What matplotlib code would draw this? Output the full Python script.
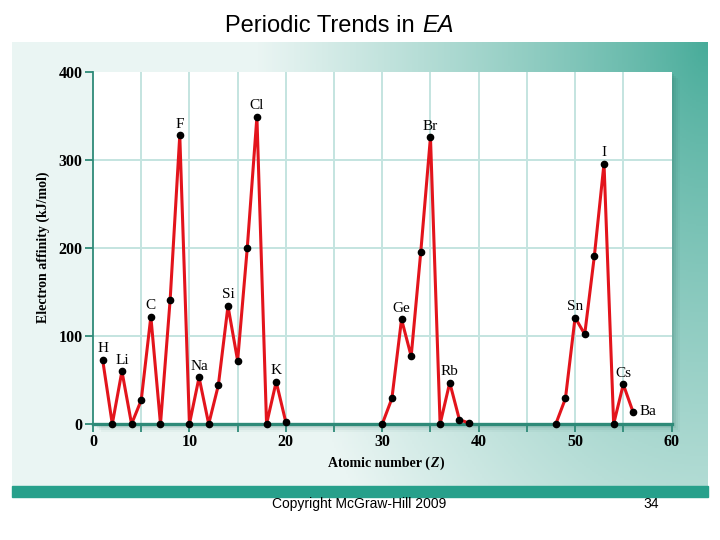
import numpy as np
import matplotlib
matplotlib.use("Agg")
import matplotlib.pyplot as plt
from matplotlib.patches import Rectangle
from matplotlib.offsetbox import TextArea, HPacker, AnnotationBbox

# ---------------- data ----------------
z_period_2_4 = list(range(1, 21))
ea_period_2_4 = [73, 0, 60, 0, 27, 122, 0, 141, 328, 0,
                 53, 0, 44, 134, 72, 200, 349, 0, 48, 2]
z_period_5 = list(range(30, 40))
ea_period_5 = [0, 29, 119, 77, 196, 326, 0, 47, 5, 1]
z_period_6 = list(range(48, 57))
ea_period_6 = [0, 29, 121, 102, 191, 296, 0, 45, 14]

label_names = ["H", "Li", "C", "F", "Na", "Si", "Cl", "K",
               "Ge", "Br", "Rb", "Sn", "I", "Cs", "Ba"]
label_z = [1, 3, 6, 9, 11, 14, 17, 19, 32, 35, 37, 50, 53, 55, 56]

x_major = [0, 10, 20, 30, 40, 50, 60]
y_major = [0, 100, 200, 300, 400]

# ---------------- figure ----------------
W, H = 720, 540
fig = plt.figure(figsize=(7.2, 5.4), dpi=100)
fig.patch.set_facecolor("white")

def fx(px):
    return px / W

def fy(py):
    return 1 - py / H

# gradient panel
pl, pt, pr, pb = 12, 42, 708, 486
ax_bg = fig.add_axes([fx(pl), fy(pb), fx(pr - pl), (pb - pt) / H])
nx, ny = 348, 222
xs = np.linspace(0, pr - pl, nx)
ys = np.linspace(0, pb - pt, ny)
XX, YY = np.meshgrid(xs, ys)
d = np.sqrt(((pr - pl) - XX) ** 2 + (0.62 * YY) ** 2)
t = np.clip(d / 450.0, 0, 1) ** 0.85
dark = np.array([0x46, 0xab, 0x99]) / 255
light = np.array([0xea, 0xf5, 0xf3]) / 255
img = dark[None, None, :] * (1 - t[..., None]) + light[None, None, :] * t[..., None]
ax_bg.imshow(img, aspect="auto", extent=[0, 1, 0, 1], origin="upper")
ax_bg.set_axis_off()

# teal bar
fig.patches.append(Rectangle((fx(12), fy(497)), fx(696), 11 / H,
                             transform=fig.transFigure, color="#27a08b",
                             zorder=1))

# main axes
axl, axr, axt, axb = 93, 671.5, 72, 424
# shadow
for i, a in enumerate([0.10, 0.08, 0.06, 0.04]):
    off = 2 * (i + 1)
    fig.patches.append(Rectangle((fx(axl + off), fy(axb + off)),
                                 fx(axr - axl), (axb - axt) / H,
                                 transform=fig.transFigure,
                                 color="#1d5f55", alpha=a, zorder=1.5,
                                 lw=0))
ax = fig.add_axes([fx(axl), fy(axb), fx(axr - axl), (axb - axt) / H])
ax.set_zorder(3)
ax.set_facecolor("white")
ax.set_xlim(0, 60)
ax.set_ylim(0, 400)

grid_c = "#c4e4e0"
ax.vlines(np.arange(5, 60, 5), 0, 400, colors=grid_c, lw=1.4, zorder=1)
ax.hlines([100, 200, 300], 0, 60, colors=grid_c, lw=1.4, zorder=1)

teal = "#2e8a78"
for s in ["top", "right"]:
    ax.spines[s].set_visible(False)
ax.spines["left"].set_color(teal)
ax.spines["left"].set_linewidth(1.3)
ax.spines["bottom"].set_color(teal)
ax.spines["bottom"].set_linewidth(2.4)
ax.spines["bottom"].set_zorder(2)

ax.set_xticks(x_major)
ax.set_xticks(np.arange(5, 60, 10), minor=True)
ax.set_yticks(y_major)
ax.tick_params(axis="both", which="both", color=teal, width=1.3,
               length=5.5, direction="out")
ax.tick_params(axis="x", which="both", pad=2)
ax.tick_params(axis="y", pad=2)
tick_font = dict(family="Liberation Serif", size=11.5, weight="bold")
ax.set_xticklabels([str(v) for v in x_major], **tick_font)
ax.set_yticklabels([str(v) for v in y_major], **tick_font)

red = "#e3141c"
for zz, ee in [(z_period_2_4, ea_period_2_4), (z_period_5, ea_period_5),
               (z_period_6, ea_period_6)]:
    ax.plot(zz, ee, color=red, lw=2.2, zorder=4, clip_on=False,
            solid_joinstyle="miter")
    ax.plot(zz, ee, "o", color="black", ms=4.5, zorder=5, clip_on=False)

# element labels
all_z = z_period_2_4 + z_period_5 + z_period_6
all_ea = ea_period_2_4 + ea_period_5 + ea_period_6
lookup = dict(zip(all_z, all_ea))
for name, z in zip(label_names, label_z):
    if name == "Ba":
        ax.annotate(name, (z, lookup[z]), xytext=(4.5, 0),
                    textcoords="offset points", ha="left", va="center",
                    family="Liberation Serif", size=11, zorder=6)
    else:
        ax.annotate(name, (z, lookup[z]), xytext=(0, 8),
                    textcoords="offset points", ha="center", va="center",
                    family="Liberation Serif", size=11, zorder=6)

# axis labels
fig.text(fx(43), fy(247), "Electron affinity (kJ/mol)", rotation=90,
         ha="center", va="center", family="Liberation Serif",
         weight="bold", size=10)

xl = HPacker(children=[
    TextArea("Atomic number (", textprops=dict(family="Liberation Serif",
                                                weight="bold", size=10)),
    TextArea("Z", textprops=dict(family="Liberation Serif", weight="bold",
                                 style="italic", size=10)),
    TextArea(")", textprops=dict(family="Liberation Serif", weight="bold",
                                 size=10)),
], sep=0.5, align="baseline", pad=0)
fig.add_artist(AnnotationBbox(xl, (fx(386), fy(463)), xycoords="figure fraction",
                              frameon=False, box_alignment=(0.5, 0.5)))

# title
tl = HPacker(children=[
    TextArea("Periodic Trends in", textprops=dict(family="Liberation Sans",
                                                  size=17)),
    TextArea("EA", textprops=dict(family="Liberation Sans", style="italic",
                                  size=17)),
], sep=5.5, align="baseline", pad=0)
fig.add_artist(AnnotationBbox(tl, (fx(339), fy(26)), xycoords="figure fraction",
                              frameon=False, box_alignment=(0.5, 0.5)))

# footer
fig.text(fx(359), fy(504), "Copyright McGraw-Hill 2009", ha="center",
         va="center", family="Liberation Sans", size=10)
fig.text(fx(651), fy(504), "34", ha="center", va="center",
         family="Liberation Sans", size=10)

fig.savefig("out.png", dpi=100, facecolor="white")
